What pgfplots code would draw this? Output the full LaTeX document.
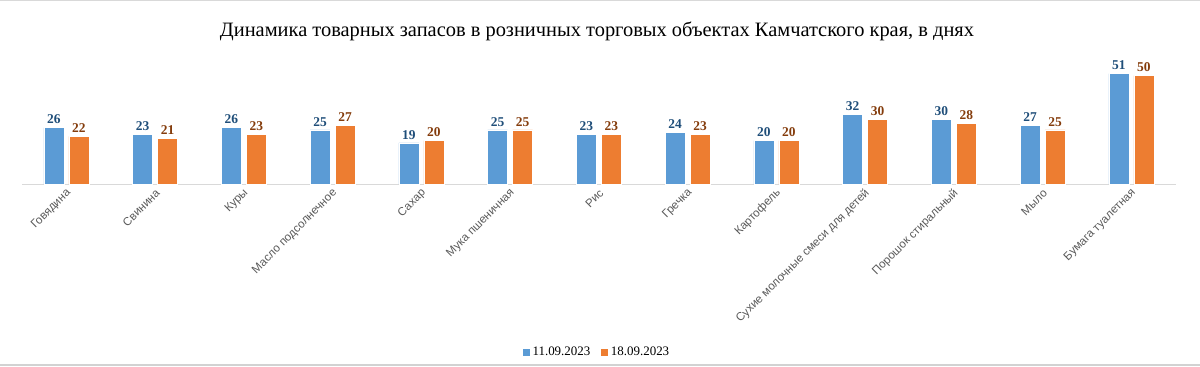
\documentclass[border=0pt]{standalone}
\usepackage{fontspec}
\setmainfont{Liberation Serif}
\newfontfamily\labelfont{Liberation Sans}
\usepackage{pgfplots}
\pgfplotsset{compat=1.18}
\definecolor{sblue}{HTML}{5B9BD5}
\definecolor{sorange}{HTML}{ED7D31}
\definecolor{lblue}{HTML}{1F4E79}
\definecolor{lbrown}{HTML}{843C0C}
\definecolor{tgray}{HTML}{595959}
\begin{document}
\begin{tikzpicture}[x=1bp,y=1bp]
\path[use as bounding box] (0,0) rectangle (1200,366);
\fill[gray!35] (0,0) rectangle (1200,2);
\fill[gray!30] (0,364.5) rectangle (1200,366);
\node[font=\fontsize{20.5}{20.5}\selectfont] at (597,335) {Динамика товарных запасов в розничных торговых объектах Камчатского края, в днях};
\begin{axis}[at={(22bp,182bp)}, anchor=south west, scale only axis,
  width=1153.75bp, height=130bp,
  xmin=-0.5, xmax=12.5, ymin=0, ymax=60,
  axis y line=none, axis x line*=bottom,
  x axis line style={draw=gray!30, line width=1bp},
  ybar, bar width=20bp,
  xtick={0,...,12}, major tick length=0pt,
  xticklabels={Говядина,Свинина,Куры,Масло подсолнечное,Сахар,Мука пшеничная,Рис,Гречка,Картофель,Сухие молочные смеси для детей,Порошок стиральный,Мыло,Бумага туалетная},
  xticklabel style={rotate=45, anchor=east, font=\labelfont\fontsize{11.6}{11.6}\selectfont, text=tgray, xshift=0bp, yshift=-7bp},
  nodes near coords,
  nodes near coords style={/pgf/number format/assume math mode=true},
  legend style={at={(0.498,-1.292)}, anchor=center, legend columns=2, draw=none, font=\fontsize{13}{13}\selectfont, /tikz/every even column/.append style={column sep=8bp}},
  legend image code/.code={\fill[#1] (0bp,-4bp) rectangle (8bp,4bp);},
]
\addplot[fill=sblue, draw=white, line width=0.6bp, bar shift=-12.5bp,
  every node near coord/.append style={font=\fontsize{13.5}{13.5}\selectfont\bfseries, text=lblue}]
  coordinates {(0,26) (1,23) (2,26) (3,25) (4,19) (5,25) (6,23) (7,24) (8,20) (9,32) (10,30) (11,27) (12,51)};
\addplot[fill=sorange, draw=white, line width=0.6bp, bar shift=12.5bp,
  every node near coord/.append style={font=\fontsize{13.5}{13.5}\selectfont\bfseries, text=lbrown}]
  coordinates {(0,22) (1,21) (2,23) (3,27) (4,20) (5,25) (6,23) (7,23) (8,20) (9,30) (10,28) (11,25) (12,50)};
\legend{11.09.2023, 18.09.2023}
\end{axis}
\end{tikzpicture}
\end{document}
